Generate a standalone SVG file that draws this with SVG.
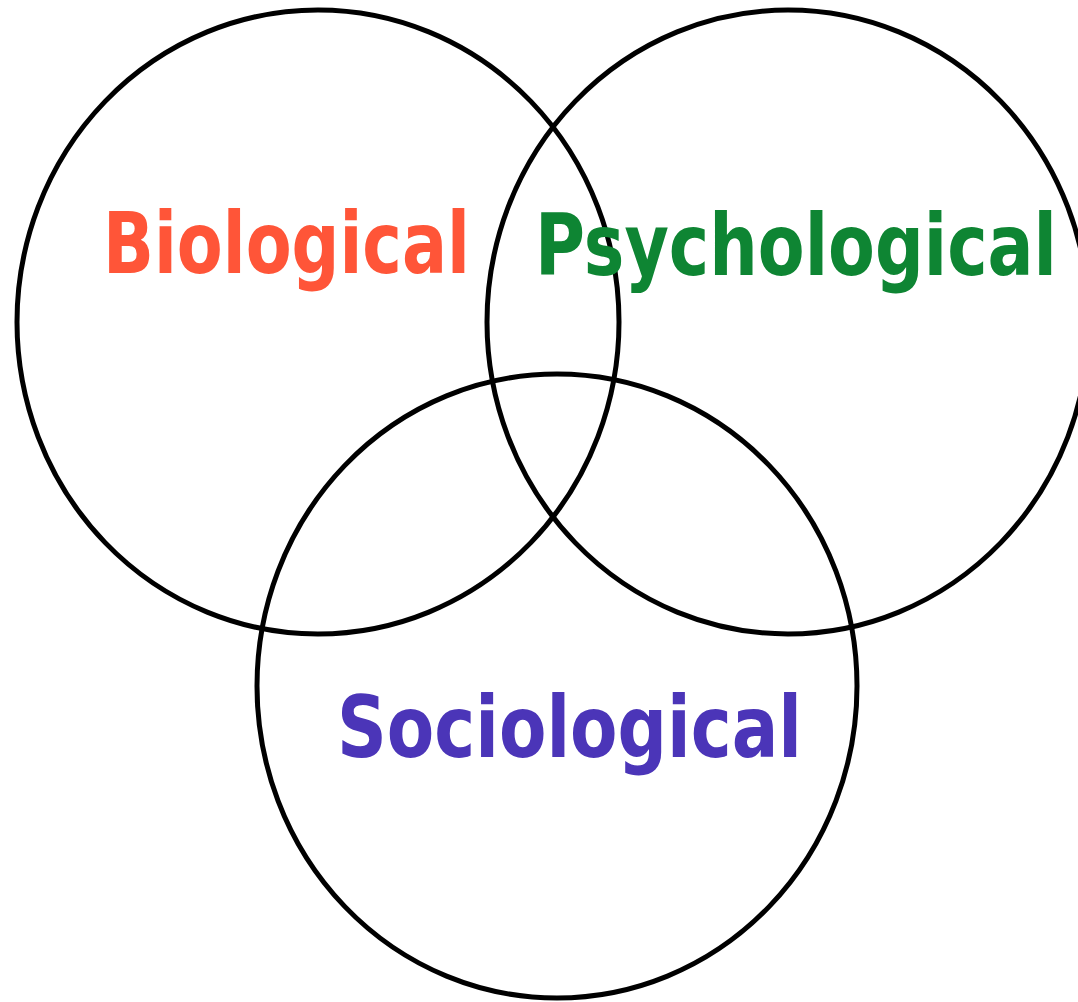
<svg xmlns="http://www.w3.org/2000/svg" width="1078" height="1002" viewBox="0 0 1078 1002">
  <style>
    .ring { fill: none; stroke: #000; stroke-width: 5; }
    .lbl { font-family: "DejaVu Sans", "Liberation Sans", sans-serif; font-weight: bold; font-size: 86px; }
  </style>
  <rect width="1078" height="1002" fill="#fff"/>
  <g id="connectors"></g>
  <g id="biological">
    <ellipse class="ring" cx="318" cy="322" rx="301" ry="312"/>
    <text class="lbl" x="103" y="273" fill="#FF5538" textLength="367" lengthAdjust="spacingAndGlyphs">Biological</text>
  </g>
  <g id="psychological">
    <ellipse class="ring" cx="788" cy="322" rx="301" ry="312"/>
    <g transform="translate(535,275) scale(1,1.265)">
      <text class="lbl" x="0" y="0" style="font-size:68px" fill="#0E8533" textLength="522" lengthAdjust="spacingAndGlyphs">Psychological</text>
    </g>
  </g>
  <g id="sociological">
    <ellipse class="ring" cx="557" cy="686" rx="300" ry="312"/>
    <text class="lbl" x="337" y="757" fill="#4B35B8" textLength="465" lengthAdjust="spacingAndGlyphs">Sociological</text>
  </g>
</svg>
